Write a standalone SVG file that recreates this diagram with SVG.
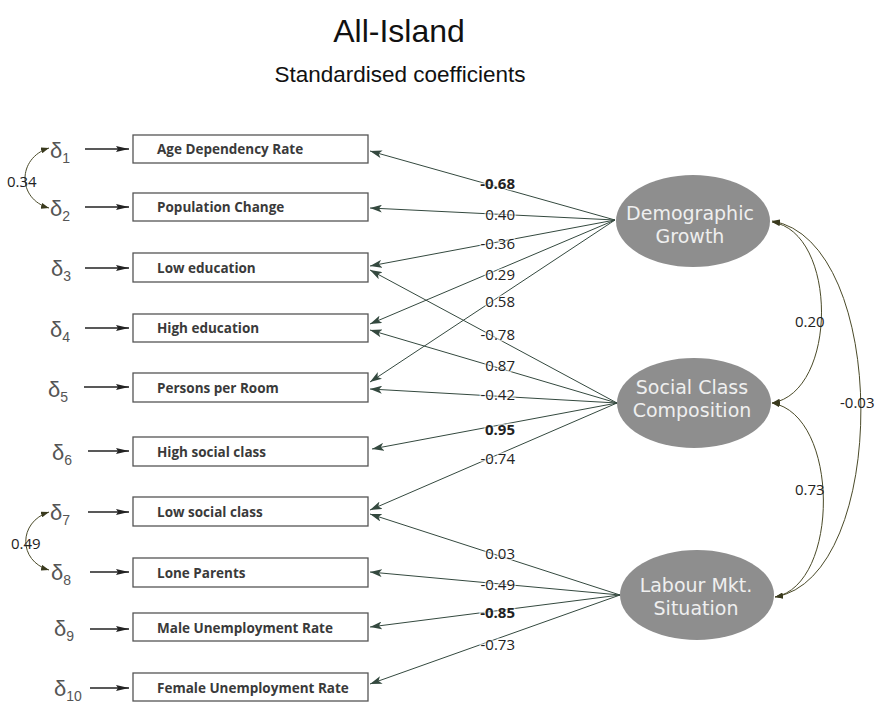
<svg xmlns="http://www.w3.org/2000/svg" width="881" height="704" viewBox="0 0 881 704">
<style>
.title{font-family:"Liberation Sans",Arial,sans-serif;fill:#111;text-anchor:middle}
.box rect{fill:#fff;stroke:#555;stroke-width:1.3}
.box text{font-family:"Open Sans","DejaVu Sans",sans-serif;font-weight:bold;font-size:13.5px;fill:#3a3a3a}
.lat ellipse{fill:#8e8e8e}
.lat text{font-family:"DejaVu Sans",sans-serif;font-size:19px;fill:#efefef;text-anchor:middle}
.err{font-family:"Liberation Sans",Arial,sans-serif;font-size:22px;fill:#555}
.err tspan{font-size:14px}
.load{stroke:#34493f;stroke-width:1;fill:none;marker-end:url(#ah)}
.din{stroke:#222;stroke-width:1.6;marker-end:url(#ad)}
.cov{stroke:#4a4a28;stroke-width:1;fill:none;marker-start:url(#ac);marker-end:url(#ac)}
.lbl{font-family:"Open Sans","DejaVu Sans",sans-serif;font-size:15px;fill:#222;text-anchor:end;stroke:#fff;stroke-width:3;stroke-opacity:0.6;paint-order:stroke}
.cl{font-family:"Open Sans","DejaVu Sans",sans-serif;font-size:15px;fill:#222}
</style>
<defs>
<marker id="ah" viewBox="0 0 12 8" refX="12" refY="4" markerWidth="12" markerHeight="8" markerUnits="userSpaceOnUse" orient="auto"><path d="M0,0 L12,4 L0,8 L3,4 z" fill="#34493f"/></marker>
<marker id="ad" viewBox="0 0 13 6" refX="13" refY="3" markerWidth="13" markerHeight="6" markerUnits="userSpaceOnUse" orient="auto"><path d="M0,0 L13,3 L0,6 L2,3 z" fill="#222"/></marker>
<marker id="ac" viewBox="0 0 8 6" refX="8" refY="3" markerWidth="8" markerHeight="6" markerUnits="userSpaceOnUse" orient="auto-start-reverse"><path d="M0,0 L8,3 L0,6 z" fill="#3a3a1e"/></marker>
</defs>
<rect width="881" height="704" fill="#fff"/>
<text class="title" x="399" y="42" font-size="32">All-Island</text>
<text class="title" x="400" y="82" font-size="22.5">Standardised coefficients</text>

<g id="connectors">
<path class="load" d="M615 220 L370 151"/>
<path class="load" d="M615 220 L370 208"/>
<path class="load" d="M615 220 L370 266"/>
<path class="load" d="M615 220 L370 324"/>
<path class="load" d="M615 220 L370 382"/>
<path class="load" d="M617 403 L370 270"/>
<path class="load" d="M617 403 L370 330"/>
<path class="load" d="M617 403 L370 389"/>
<path class="load" d="M617 403 L372 449"/>
<path class="load" d="M617 403 L370 510"/>
<path class="load" d="M620 595 L370 514"/>
<path class="load" d="M620 595 L370 572"/>
<path class="load" d="M620 595 L370 627"/>
<path class="load" d="M620 595 L370 684"/>
<line class="din" x1="85" y1="149" x2="129" y2="149"/>
<line class="din" x1="85" y1="207" x2="129" y2="207"/>
<line class="din" x1="85" y1="268" x2="129" y2="268"/>
<line class="din" x1="85" y1="328" x2="129" y2="328"/>
<line class="din" x1="84" y1="387" x2="129" y2="387"/>
<line class="din" x1="88" y1="451" x2="129" y2="451"/>
<line class="din" x1="88" y1="512" x2="129" y2="512"/>
<line class="din" x1="90" y1="572" x2="129" y2="572"/>
<line class="din" x1="90" y1="629" x2="129" y2="629"/>
<line class="din" x1="90" y1="688" x2="129" y2="688"/>
<path class="cov" d="M49 148 C17 158, 17 199, 49 208"/>
<path class="cov" d="M49 512 C18 522, 18 561, 49 570"/>
<path class="cov" d="M772 222 C838 232, 838 392, 772 403"/>
<path class="cov" d="M772 403 C840 415, 840 585, 775 597"/>
<path class="cov" d="M772 221 C890 240, 890 578, 775 597"/>
<text class="lbl" x="515" y="189" font-weight="bold">-0.68</text>
<text class="lbl" x="515" y="220">0.40</text>
<text class="lbl" x="515" y="249">-0.36</text>
<text class="lbl" x="515" y="280">0.29</text>
<text class="lbl" x="515" y="307">0.58</text>
<text class="lbl" x="515" y="340">-0.78</text>
<text class="lbl" x="515" y="371">0.87</text>
<text class="lbl" x="515" y="400">-0.42</text>
<text class="lbl" x="515" y="435" font-weight="bold">0.95</text>
<text class="lbl" x="515" y="464">-0.74</text>
<text class="lbl" x="515" y="559">0.03</text>
<text class="lbl" x="515" y="590">-0.49</text>
<text class="lbl" x="515" y="618" font-weight="bold">-0.85</text>
<text class="lbl" x="515" y="650">-0.73</text>
<text class="cl" x="7" y="187">0.34</text>
<text class="cl" x="11" y="549">0.49</text>
<text class="cl" x="795" y="327">0.20</text>
<text class="cl" x="795" y="495">0.73</text>
<text class="cl" x="840" y="408">-0.03</text>
</g>

<g id="e1"><text class="err" x="50" y="158">δ<tspan dy="5">1</tspan></text></g>
<g id="e2"><text class="err" x="50" y="216">δ<tspan dy="5">2</tspan></text></g>
<g id="e3"><text class="err" x="51" y="276">δ<tspan dy="5">3</tspan></text></g>
<g id="e4"><text class="err" x="50" y="337">δ<tspan dy="5">4</tspan></text></g>
<g id="e5"><text class="err" x="48" y="397">δ<tspan dy="5">5</tspan></text></g>
<g id="e6"><text class="err" x="52" y="460">δ<tspan dy="5">6</tspan></text></g>
<g id="e7"><text class="err" x="50" y="520">δ<tspan dy="5">7</tspan></text></g>
<g id="e8"><text class="err" x="51" y="580">δ<tspan dy="5">8</tspan></text></g>
<g id="e9"><text class="err" x="54" y="636">δ<tspan dy="5">9</tspan></text></g>
<g id="e10"><text class="err" x="54" y="696">δ<tspan dy="5">10</tspan></text></g>

<g id="n1" class="box"><rect x="133" y="135" width="235" height="28"/><text x="157" y="154">Age Dependency Rate</text></g>
<g id="n2" class="box"><rect x="133" y="193" width="235" height="28"/><text x="157" y="212">Population Change</text></g>
<g id="n3" class="box"><rect x="133" y="253" width="235" height="29"/><text x="157" y="273">Low education</text></g>
<g id="n4" class="box"><rect x="133" y="314" width="235" height="28"/><text x="157" y="333">High education</text></g>
<g id="n5" class="box"><rect x="133" y="373" width="235" height="29"/><text x="157" y="393">Persons per Room</text></g>
<g id="n6" class="box"><rect x="133" y="437" width="235" height="29"/><text x="157" y="457">High social class</text></g>
<g id="n7" class="box"><rect x="133" y="497" width="235" height="29"/><text x="157" y="517">Low social class</text></g>
<g id="n8" class="box"><rect x="133" y="558" width="235" height="29"/><text x="157" y="578">Lone Parents</text></g>
<g id="n9" class="box"><rect x="133" y="613" width="235" height="28"/><text x="157" y="633">Male Unemployment Rate</text></g>
<g id="n10" class="box"><rect x="133" y="673" width="235" height="28"/><text x="157" y="693">Female Unemployment Rate</text></g>

<g id="demographic" class="lat"><ellipse cx="693" cy="221" rx="77" ry="46"/><text x="690" y="220">Demographic</text><text x="690" y="243">Growth</text></g>
<g id="social" class="lat"><ellipse cx="694" cy="403" rx="77" ry="45"/><text x="692" y="394">Social Class</text><text x="692" y="417">Composition</text></g>
<g id="labour" class="lat"><ellipse cx="697" cy="595" rx="77" ry="45"/><text x="696" y="592">Labour Mkt.</text><text x="696" y="615">Situation</text></g>
</svg>
